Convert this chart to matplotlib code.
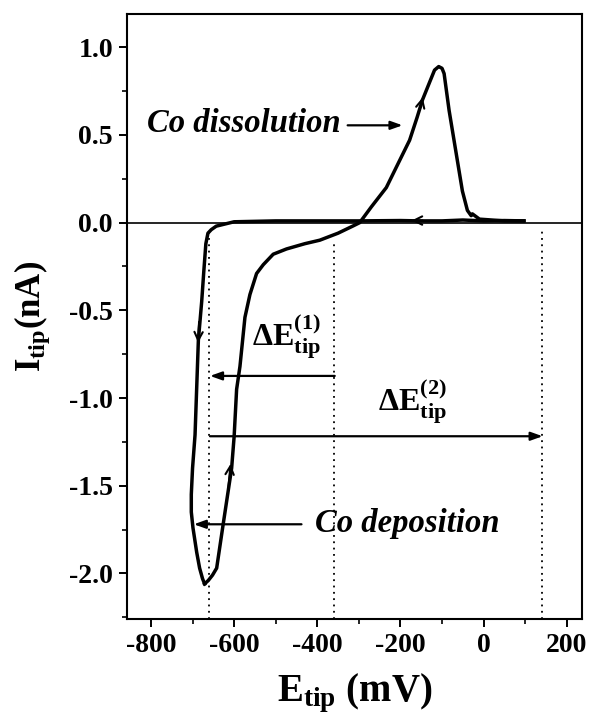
import numpy as np
import matplotlib
matplotlib.use("Agg")
import matplotlib.pyplot as plt
from matplotlib.ticker import MultipleLocator

plt.rcParams['font.family'] = ['Liberation Serif', 'DejaVu Serif']
plt.rcParams['font.weight'] = 'bold'
plt.rcParams['mathtext.fontset'] = 'custom'
plt.rcParams['mathtext.rm'] = 'Liberation Serif:bold'
plt.rcParams['mathtext.bf'] = 'Liberation Serif:bold'
plt.rcParams['mathtext.it'] = 'Liberation Serif:bold:italic'

# forward scan (+100 mV -> negative), deposition
fwd_E = [97, 50, 0, -50, -100, -155, -200, -300, -400, -500, -600, -643, -655, -663,
         -668, -673, -678, -686, -694, -700, -703, -703, -699, -690, -683, -676, -671]
fwd_I = [0.01, 0.012, 0.01, 0.015, 0.01, 0.01, 0.012, 0.01, 0.01, 0.01, 0.005, -0.02, -0.04, -0.06,
         -0.12, -0.28, -0.45, -0.67, -1.21, -1.40, -1.55, -1.65, -1.74, -1.88, -1.97, -2.03, -2.06]

# reverse scan, back to positive, dissolution peak
rev_E = [-671, -662, -652, -642, -627, -606, -600, -594, -586, -574, -562, -546, -530, -506,
         -474, -430, -394, -350, -315, -298, -270, -234, -205, -178, -160, -147, -130, -118,
         -108, -100, -95, -83, -67, -51, -39, -30, -27, -10, 20, 50, 97]
rev_I = [-2.06, -2.04, -2.01, -1.97, -1.73, -1.40, -1.22, -0.95, -0.82, -0.54, -0.41, -0.29, -0.24, -0.18,
         -0.15, -0.12, -0.10, -0.06, -0.02, 0.0, 0.09, 0.20, 0.34, 0.47, 0.60, 0.70, 0.80, 0.87,
         0.89, 0.88, 0.85, 0.64, 0.41, 0.18, 0.07, 0.04, 0.05, 0.02, 0.015, 0.01, 0.01]

dotted_E = [-660, -360, 140]
dotted_top = [-0.03, -0.10, -0.03]

fig = plt.figure(figsize=(5.9, 7.16), dpi=100)
ax = fig.add_axes([0.215, 0.1355, 0.771, 0.845])

ax.axhline(0, color='black', lw=1.2, zorder=1)
ax.plot(fwd_E, fwd_I, color='black', lw=2.5, solid_joinstyle='round', zorder=3)
ax.plot(rev_E, rev_I, color='black', lw=2.5, solid_joinstyle='round', zorder=3)

for e, t in zip(dotted_E, dotted_top):
    ax.plot([e, e], [-2.26, t], color='black', lw=1.3, ls=(0, (1, 2.5)), zorder=2)

# scan direction marks (open arrowheads on the curve)
openarr = dict(arrowstyle='->,head_length=0.6,head_width=0.3', lw=1.5, color='black')
ax.annotate('', xy=(-687, -0.70), xytext=(-684, -0.55), arrowprops=openarr)
ax.annotate('', xy=(-608, -1.36), xytext=(-614, -1.52), arrowprops=openarr)
ax.annotate('', xy=(-180, 0.012), xytext=(-140, 0.012), arrowprops=openarr)
ax.annotate('', xy=(-145, 0.73), xytext=(-155, 0.63), arrowprops=openarr)

# labelled arrows
fillarr = dict(arrowstyle='-|>,head_length=0.7,head_width=0.25', lw=1.6, color='black',
               shrinkA=0, shrinkB=0)
ax.annotate('', xy=(-195, 0.555), xytext=(-327, 0.555), arrowprops=fillarr)
ax.text(-810, 0.516, 'Co dissolution', fontsize=23.5, style='italic', weight='bold', ha='left', va='baseline')

ax.annotate('', xy=(-697, -1.72), xytext=(-438, -1.72), arrowprops=fillarr)
ax.text(-406, -1.766, 'Co deposition', fontsize=23.5, style='italic', weight='bold', ha='left', va='baseline')

ax.annotate('', xy=(-658, -0.874), xytext=(-358, -0.874), arrowprops=fillarr)
ax.text(-558, -0.706, r'$\mathrm{\Delta E}^{\mathrm{(1)}}_{\mathrm{tip}}$', fontsize=23, ha='left', va='baseline')

ax.annotate('', xy=(142, -1.218), xytext=(-658, -1.218), arrowprops=fillarr)
ax.text(-254, -1.076, r'$\mathrm{\Delta E}^{\mathrm{(2)}}_{\mathrm{tip}}$', fontsize=23, ha='left', va='baseline')

ax.set_xlim(-858, 236)
ax.set_ylim(-2.26, 1.19)
ax.xaxis.set_major_locator(MultipleLocator(200))
ax.xaxis.set_minor_locator(MultipleLocator(100))
ax.yaxis.set_major_locator(MultipleLocator(0.5))
ax.yaxis.set_minor_locator(MultipleLocator(0.25))
ax.yaxis.set_major_formatter(plt.FuncFormatter(lambda v, p: f'{v:.1f}'))
ax.xaxis.set_major_formatter(plt.FuncFormatter(lambda v, p: f'{v:.0f}'))
ax.tick_params(which='major', direction='out', length=6, width=1.4, labelsize=20, pad=4)
ax.tick_params(which='minor', direction='out', length=3.5, width=1.2)
for s in ax.spines.values():
    s.set_linewidth(1.5)

ax.set_xlabel(r'$\mathrm{E_{tip}}$ (mV)', fontsize=28, weight='bold', labelpad=10)
ax.set_ylabel(r'$\mathrm{I_{tip}}$(nA)', fontsize=25, weight='bold', labelpad=12)

fig.savefig('out.png', dpi=100)
